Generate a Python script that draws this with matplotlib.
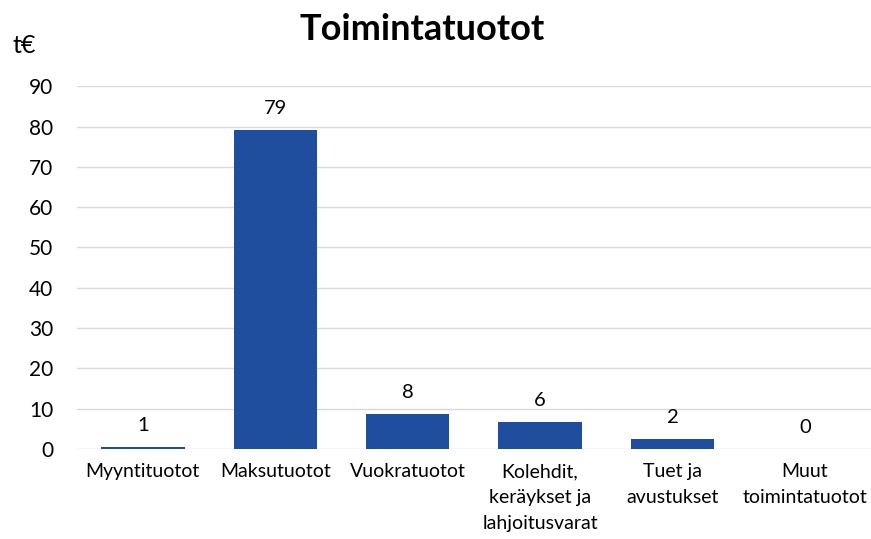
import numpy as np
import matplotlib.pyplot as plt

# Data
categories = ["Myyntituotot", "Maksutuotot", "Vuokratuotot",
              "Kolehdit,\nkeräykset ja\nlahjoitusvarat",
              "Tuet ja\navustukset", "Muut\ntoimintatuotot"]
values = [0.6, 79.2, 8.6, 6.6, 2.4, 0.1]  # t€
labels = [1, 79, 8, 6, 2, 0]

plt.rcParams['font.family'] = ['Lato', 'DejaVu Sans']

fig = plt.figure(figsize=(8.71, 5.39), dpi=100)
ax = fig.add_axes([0.088, 0.167, 0.912, 0.673])

x = np.arange(len(categories))
bars = ax.bar(x, values, width=0.63, color='#1f4e9e', zorder=3)

# data labels
for xi, v, lab in zip(x, values, labels):
    ax.text(xi, v + 3.2, str(lab), ha='center', va='bottom', fontsize=14.5)

ax.set_xlim(-0.5, 5.5)
ax.set_ylim(0, 90)
ax.set_yticks(range(0, 91, 10))
ax.set_xticks(x)
ax.set_xticklabels(categories, fontsize=14, linespacing=1.65, va='top')
ax.tick_params(axis='y', labelsize=15, length=0, pad=17)
ax.tick_params(axis='x', length=0, pad=10)
ax.grid(axis='y', color='#d9d9d9', linewidth=1, zorder=0)
for s in ax.spines.values():
    s.set_visible(False)

fig.text(0.485, 0.946, "Toimintatuotot", ha='center', va='center',
         fontsize=26, fontweight='bold')
fig.text(0.014, 0.915, "t€", ha='left', va='center', fontsize=18)

fig.savefig("out.png", dpi=100)
